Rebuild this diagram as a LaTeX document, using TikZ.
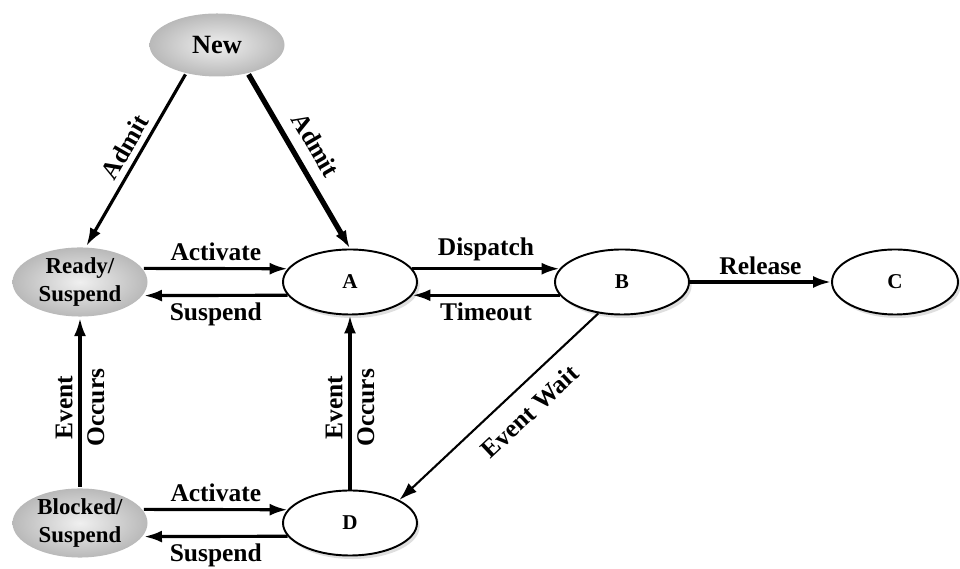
\documentclass[tikz,border=0pt]{standalone}
\usepackage{fontspec}
\setmainfont{Liberation Serif}
\usetikzlibrary{shapes.geometric,arrows.meta,shadows}
\begin{document}
\begin{tikzpicture}[>={Latex[length=3.6mm,width=2.4mm]}, line width=1.8pt,
state node/.style={ellipse,draw,fill=white,minimum width=2.68cm,minimum height=1.3cm,inner sep=0pt,line width=1.1pt,drop shadow={shadow xshift=1.5pt,shadow yshift=-2pt,opacity=0.25},font=\bfseries\fontsize{12}{14}\selectfont},
gray node/.style={ellipse,inner color=gray!12,outer color=gray!55,minimum width=2.7cm,minimum height=1.26cm,inner sep=0pt,align=center,font=\bfseries\fontsize{13}{16}\selectfont}]
\useasboundingbox (0,0) rectangle (19.2,11.38);
\begin{scope}
\node[gray node,font=\bfseries\fontsize{15}{16}\selectfont] (new) at (4.34,10.48) {New};
\node[gray node] (ready) at (1.6,5.74) {Ready/\\Suspend};
\node[gray node] (blocked) at (1.6,0.92) {Blocked/\\Suspend};
\node[state node] (A) at (7,5.74) {A};
\node[state node] (B) at (12.44,5.74) {B};
\node[state node,minimum width=2.52cm] (C) at (17.9,5.74) {C};
\node[state node] (D) at (7,0.92) {D};
\end{scope}
\begin{scope}[every edge/.style={draw,->},every node/.style={font=\bfseries\fontsize{14.5}{18}\selectfont}]
\draw (new.223) edge node[sloped,above,pos=0.47]{Admit} (ready.80);
\draw[line width=3pt] (new.317) edge node[sloped,above=3pt,pos=0.47]{Admit} (A.north);
\draw (ready.12) edge node[above]{Activate} (A.168);
\draw (A.192) edge node[below]{Suspend} (ready.-12);
\draw (A.12) edge node[above]{Dispatch} (B.168);
\draw (B.192) edge node[below]{Timeout} (A.-12);
\draw (B) edge node[above]{Release} (C);
\draw[line width=1.2pt] (B.233) edge node[sloped,below=5pt,pos=0.43]{Event Wait} (D.25);
\draw (blocked) edge node[sloped,align=center,pos=0.47]{Event\\Occurs} (ready);
\draw (D) edge node[sloped,align=center,pos=0.47]{Event\\Occurs} (A);
\draw (blocked.12) edge node[above]{Activate} (D.168);
\draw (D.192) edge node[below]{Suspend} (blocked.-12);
%\draw (C) edge node{} (C);
\end{scope}
\end{tikzpicture}
\end{document}
